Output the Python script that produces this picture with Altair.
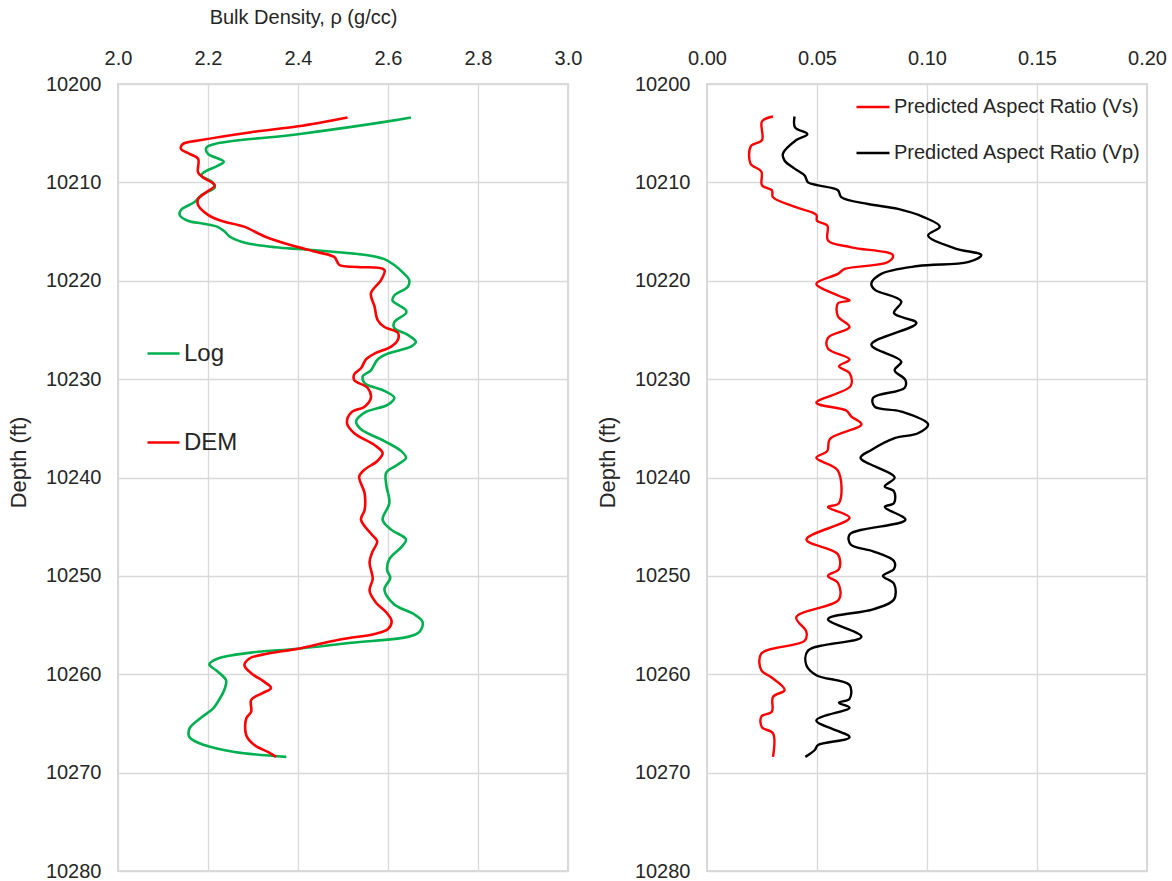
import altair as alt
import pandas as pd

# ---- Bulk density logs (depth in ft, density in g/cc) ----
log_depth = [10203.4, 10203.8, 10205.1, 10206.1, 10206.5, 10207.1, 10207.9, 10208.3, 10209.0, 10209.3,
             10210.0, 10210.5, 10211.3, 10212.0, 10212.8, 10213.3, 10213.9, 10214.2, 10214.5, 10215.0,
             10215.5, 10216.1, 10216.6, 10216.8, 10217.1, 10217.4, 10217.8, 10218.4, 10219.3, 10219.9,
             10220.6, 10221.5, 10222.0, 10223.0, 10223.3, 10224.2, 10224.8, 10225.5, 10226.2, 10226.7,
             10227.4, 10228.0, 10229.1, 10229.7, 10230.4, 10231.2, 10231.9, 10232.6, 10233.4, 10234.3,
             10235.1, 10236.3, 10237.3, 10238.0, 10238.7, 10239.5, 10240.7, 10242.6, 10244.3, 10245.3,
             10246.3, 10247.1, 10248.3, 10249.4, 10250.2, 10251.4, 10252.9, 10253.9, 10254.7, 10255.7,
             10256.2, 10256.8, 10257.4, 10257.8, 10258.4, 10259.0, 10259.6, 10260.6, 10261.5, 10262.8,
             10263.5, 10264.4, 10265.5, 10266.4, 10267.2, 10267.9, 10268.4]
log_rho = [2.651, 2.600, 2.400, 2.215, 2.196, 2.200, 2.235, 2.222, 2.190, 2.185,
           2.210, 2.215, 2.185, 2.170, 2.140, 2.137, 2.155, 2.190, 2.220, 2.237,
           2.248, 2.280, 2.350, 2.410, 2.490, 2.555, 2.592, 2.614, 2.636, 2.647,
           2.644, 2.614, 2.610, 2.640, 2.640, 2.614, 2.614, 2.644, 2.662, 2.651,
           2.600, 2.577, 2.562, 2.544, 2.548, 2.592, 2.614, 2.600, 2.548, 2.529,
           2.540, 2.592, 2.629, 2.640, 2.621, 2.596, 2.596, 2.603, 2.588, 2.607,
           2.640, 2.629, 2.603, 2.598, 2.605, 2.592, 2.614, 2.658, 2.677, 2.670,
           2.644, 2.518, 2.400, 2.296, 2.222, 2.203, 2.218, 2.240, 2.237, 2.222,
           2.211, 2.185, 2.159, 2.159, 2.192, 2.259, 2.374]

dem_depth = [10203.4, 10204.3, 10204.9, 10205.7, 10206.1, 10206.6, 10207.1, 10207.6, 10209.0, 10209.5,
             10210.3, 10211.0, 10211.7, 10212.3, 10213.3, 10213.9, 10214.5, 10215.5, 10216.4, 10217.1,
             10217.6, 10218.4, 10218.6, 10218.9, 10219.9, 10221.3, 10222.6, 10224.0, 10224.7, 10225.3,
             10226.0, 10226.7, 10227.4, 10228.0, 10228.9, 10229.5, 10230.1, 10230.9, 10231.9, 10232.8,
             10233.4, 10234.5, 10235.5, 10236.7, 10237.5, 10238.3, 10239.2, 10239.9, 10241.6, 10243.3,
             10244.3, 10245.7, 10246.5, 10247.5, 10248.6, 10250.3, 10251.5, 10252.7, 10253.7, 10254.6,
             10255.4, 10255.9, 10256.4, 10256.8, 10257.4, 10257.9, 10258.4, 10259.1, 10259.9, 10260.8,
             10261.4, 10261.9, 10262.6, 10263.8, 10264.5, 10266.2, 10267.2, 10267.9, 10268.4]
dem_rho = [2.510, 2.400, 2.296, 2.185, 2.144, 2.140, 2.159, 2.178, 2.178, 2.189,
           2.215, 2.196, 2.178, 2.178, 2.200, 2.229, 2.280, 2.326, 2.385, 2.444,
           2.481, 2.492, 2.533, 2.592, 2.585, 2.562, 2.570, 2.577, 2.592, 2.622,
           2.622, 2.607, 2.570, 2.551, 2.540, 2.525, 2.525, 2.555, 2.562, 2.548,
           2.518, 2.509, 2.525, 2.570, 2.588, 2.577, 2.548, 2.536, 2.548, 2.548,
           2.540, 2.562, 2.576, 2.566, 2.559, 2.566, 2.559, 2.573, 2.596, 2.608,
           2.600, 2.570, 2.503, 2.459, 2.400, 2.333, 2.292, 2.281, 2.296, 2.326,
           2.340, 2.322, 2.296, 2.296, 2.285, 2.285, 2.303, 2.333, 2.351]

# ---- Predicted aspect ratios ----
vs_depth = [10203.3, 10203.8, 10205.7, 10206.3, 10208.1, 10208.9, 10210.3, 10210.8, 10211.5, 10212.5,
            10213.3, 10213.9, 10214.4, 10215.9, 10216.6, 10217.4, 10218.1, 10218.8, 10219.3, 10220.3,
            10221.5, 10222.0, 10222.3, 10223.6, 10224.7, 10225.8, 10226.9, 10228.0, 10228.7, 10229.4,
            10230.7, 10232.4, 10233.2, 10233.8, 10234.6, 10236.1, 10237.3, 10238.0, 10239.3, 10242.6,
            10243.0, 10244.1, 10246.3, 10247.8, 10249.3, 10250.0, 10250.7, 10252.4, 10254.2, 10255.7,
            10256.6, 10257.9, 10259.6, 10260.3, 10261.6, 10262.3, 10263.8, 10264.3, 10265.4, 10266.0,
            10268.4]
vs_ratio = [0.0300, 0.0250, 0.0250, 0.0200, 0.0198, 0.0247, 0.0250, 0.0295, 0.0300, 0.0400,
            0.0497, 0.0500, 0.0547, 0.0550, 0.0656, 0.0845, 0.0823, 0.0626, 0.0595, 0.0497,
            0.0595, 0.0648, 0.0595, 0.0595, 0.0648, 0.0550, 0.0550, 0.0648, 0.0600, 0.0648,
            0.0653, 0.0497, 0.0633, 0.0656, 0.0702, 0.0558, 0.0547, 0.0497, 0.0595, 0.0600,
            0.0550, 0.0648, 0.0452, 0.0595, 0.0600, 0.0550, 0.0595, 0.0600, 0.0406, 0.0452,
            0.0444, 0.0247, 0.0247, 0.0292, 0.0353, 0.0300, 0.0295, 0.0247, 0.0250, 0.0300,
            0.0300]

vp_depth = [10203.3, 10204.4, 10205.1, 10205.7, 10207.1, 10207.8, 10208.6, 10209.3, 10210.0, 10210.3,
            10210.8, 10211.5, 10212.2, 10212.7, 10213.5, 10214.5, 10215.4, 10216.7, 10217.4, 10218.1,
            10218.5, 10219.3, 10220.3, 10220.9, 10222.1, 10223.3, 10224.3, 10226.5, 10228.2, 10229.1,
            10230.1, 10230.9, 10231.9, 10232.8, 10233.3, 10234.6, 10235.5, 10236.0, 10237.2, 10238.0,
            10240.0, 10240.9, 10241.4, 10242.6, 10243.0, 10244.3, 10245.8, 10246.8, 10247.5, 10248.5,
            10249.3, 10250.0, 10250.8, 10252.4, 10253.4, 10254.4, 10256.2, 10257.6, 10259.1, 10260.1,
            10261.1, 10262.5, 10262.9, 10263.4, 10264.7, 10266.4, 10267.2, 10267.7, 10268.4]
vp_ratio = [0.0398, 0.0400, 0.0456, 0.0406, 0.0345, 0.0353, 0.0398, 0.0444, 0.0459, 0.0505,
            0.0595, 0.0610, 0.0732, 0.0868, 0.0982, 0.1058, 0.1005, 0.1126, 0.1247, 0.1186,
            0.0959, 0.0792, 0.0747, 0.0762, 0.0883, 0.0850, 0.0952, 0.0747, 0.0883, 0.0853,
            0.0902, 0.0898, 0.0755, 0.0762, 0.0883, 0.1005, 0.0959, 0.0853, 0.0747, 0.0698,
            0.0853, 0.0808, 0.0850, 0.0850, 0.0808, 0.0902, 0.0648, 0.0653, 0.0755, 0.0850,
            0.0850, 0.0800, 0.0850, 0.0850, 0.0755, 0.0550, 0.0702, 0.0459, 0.0452, 0.0497,
            0.0648, 0.0648, 0.0600, 0.0648, 0.0497, 0.0648, 0.0505, 0.0490, 0.0447]

depth_ticks = [10200, 10210, 10220, 10230, 10240, 10250, 10260, 10270, 10280]
rho_ticks = [2.0, 2.2, 2.4, 2.6, 2.8, 3.0]
ratio_ticks = [0.00, 0.05, 0.10, 0.15, 0.20]

density_series = ["Log", "DEM"]
ratio_series = ["Predicted Aspect Ratio (Vs)", "Predicted Aspect Ratio (Vp)"]

density_df = pd.concat([
    pd.DataFrame({"depth": log_depth, "value": log_rho, "series": "Log", "k": 0}),
    pd.DataFrame({"depth": dem_depth, "value": dem_rho, "series": "DEM", "k": 1}),
])
ratio_df = pd.concat([
    pd.DataFrame({"depth": vs_depth, "value": vs_ratio, "series": ratio_series[0], "k": 0}),
    pd.DataFrame({"depth": vp_depth, "value": vp_ratio, "series": ratio_series[1], "k": 1}),
])

FONT = "Liberation Sans, Arial, sans-serif"
TXT = "#262626"

y_enc = alt.Y(
    "depth:Q",
    scale=alt.Scale(domain=[10200, 10280], reverse=True, nice=False, zero=False),
    axis=alt.Axis(values=depth_ticks, format="d", title="Depth (ft)", ticks=False, domain=False,
                  labelPadding=17, titlePadding=15, titleFont=FONT, titleFontSize=22,
                  titleFontWeight="normal", titleColor=TXT, titleY=378, labelFlush=False),
)

left = alt.Chart(density_df).mark_line(strokeWidth=2.6, interpolate="catmull-rom").encode(
    x=alt.X("value:Q",
            scale=alt.Scale(domain=[2.0, 3.0], nice=False, zero=False),
            axis=alt.Axis(orient="top", values=rho_ticks, format=".1f",
                          title="Bulk Density, ρ (g/cc)", ticks=False, domain=False,
                          labelFlush=False, labelPadding=16, titlePadding=21,
                          titleFont=FONT, titleFontSize=20,
                          titleFontWeight="normal", titleColor=TXT, titleX=185)),
    y=y_enc,
    color=alt.Color("series:N",
                    scale=alt.Scale(domain=density_series, range=["#00B050", "#FF0000"]),
                    legend=alt.Legend(title=None, orient="none", legendX=28, legendY=252,
                                      symbolType="stroke", symbolSize=1024, symbolStrokeWidth=2.6,
                                      labelFont=FONT, labelFontSize=24, labelColor=TXT,
                                      labelOffset=3, rowPadding=59, padding=0)),
    order=alt.Order("depth:Q"),
    detail="k:N",
).properties(width=450, height=787)

right = alt.Chart(ratio_df).mark_line(strokeWidth=2.4, interpolate="catmull-rom").encode(
    x=alt.X("value:Q",
            scale=alt.Scale(domain=[0.0, 0.2], nice=False, zero=False),
            axis=alt.Axis(orient="top", values=ratio_ticks, format=".2f", title=None,
                          ticks=False, domain=False, labelFlush=False, labelPadding=16)),
    y=y_enc,
    color=alt.Color("series:N",
                    scale=alt.Scale(domain=ratio_series, range=["#FF0000", "#000000"]),
                    legend=alt.Legend(title=None, orient="none", legendX=148, legendY=5,
                                      symbolType="stroke", symbolSize=1089, symbolStrokeWidth=2.4,
                                      labelFont=FONT, labelFontSize=20, labelColor=TXT,
                                      labelOffset=3, rowPadding=18, padding=0, labelLimit=400)),
    order=alt.Order("depth:Q"),
    detail="k:N",
).properties(width=440, height=787)

chart = alt.hconcat(left, right, spacing=139, bounds="flush").resolve_scale(
    color="independent"
).resolve_legend(color="independent").properties(
    padding={"left": 6, "top": 6, "right": 0, "bottom": 5},
    background="white",
).configure_view(
    stroke="#d9d9d9", strokeWidth=2,
).configure_axis(
    gridColor="#d9d9d9", gridWidth=1.3,
    labelFont=FONT, labelFontSize=20, labelColor=TXT,
)

chart.save("out.html", embed_options={"renderer": "svg", "actions": False})
